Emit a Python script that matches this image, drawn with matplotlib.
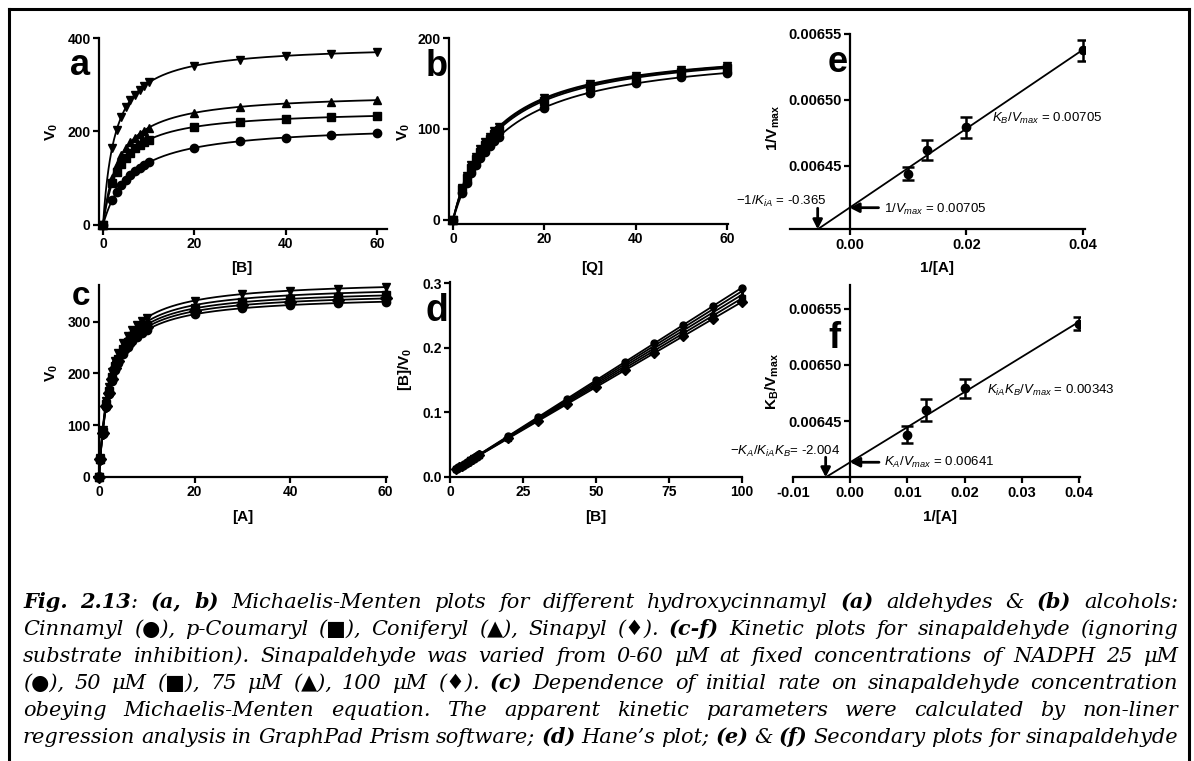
import numpy as np
import matplotlib
matplotlib.use('Agg')
import matplotlib.pyplot as plt
from matplotlib.ticker import FormatStrFormatter
from matplotlib.lines import Line2D

plt.rcParams['font.family'] = ['Liberation Sans', 'DejaVu Sans']
plt.rcParams['font.weight'] = 'bold'
plt.rcParams['mathtext.fontset'] = 'custom'
plt.rcParams['mathtext.rm'] = 'Liberation Sans:weight=normal'
plt.rcParams['mathtext.it'] = 'Liberation Sans:style=italic:weight=normal'
plt.rcParams['mathtext.bf'] = 'Liberation Sans:weight=bold'

# ---------------- data ----------------
# panel a (aldehydes) : x = [B]
a_x = [0, 2, 3, 4, 5, 6, 7, 8, 9, 10, 20, 30, 40, 50, 60]
a_cinnamyl = [0, 53, 71, 85, 97, 107, 115, 122, 128, 134, 165, 179, 187, 192, 196]
a_coumaryl = [0, 89, 113, 131, 144, 155, 164, 171, 177, 182, 210, 221, 227, 231, 233]
a_coniferyl = [0, 101, 129, 149, 165, 177, 187, 195, 202, 208, 240, 253, 260, 264, 267]
a_sinapyl = [0, 165, 204, 231, 252, 267, 279, 289, 298, 305, 341, 354, 362, 366, 370]

# panel b (alcohols) : x = [Q]
b_x = [0, 2, 3, 4, 5, 6, 7, 8, 9, 10, 20, 30, 40, 50, 60]
b_cinnamyl = [0, 29.6, 41.2, 51.3, 60.1, 67.8, 74.7, 80.8, 86.4, 91.4, 123.6, 140.1, 150.1, 156.8, 161.6]
b_coumaryl = [0, 33.7, 46.4, 57.3, 66.7, 74.9, 82.1, 88.5, 94.1, 99.2, 131.2, 147.0, 156.3, 162.6, 167.0]
b_coniferyl = [0, 34.6, 47.7, 58.8, 68.3, 76.6, 83.8, 90.2, 95.9, 101.0, 132.9, 148.5, 157.7, 163.9, 168.2]
b_sinapyl = [0, 35.5, 48.7, 60.0, 69.6, 77.9, 85.2, 91.6, 97.3, 102.4, 134.1, 149.4, 158.6, 164.6, 168.8]

# panel c : x = [A]
c_x = [0, 0.25, 0.75, 1.5, 2, 2.7, 3.4, 4, 5, 6, 7, 8, 9, 10, 20, 30, 40, 50, 60]
c_s1 = [0, 36, 91, 147, 174, 202, 224, 239, 258, 273, 285, 294, 301, 308, 341, 354, 360, 364, 367]
c_s2 = [0, 35, 89, 143, 169, 197, 218, 233, 251, 266, 277, 286, 294, 300, 332, 344, 351, 355, 358]
c_s3 = [0, 34, 87, 141, 166, 193, 214, 228, 247, 261, 272, 281, 288, 294, 326, 338, 344, 348, 351]
c_s4 = [0, 34, 85, 138, 163, 190, 210, 224, 243, 256, 267, 276, 283, 289, 321, 332, 339, 342, 345]
c_s5 = [0, 33, 84, 136, 160, 186, 206, 220, 238, 251, 262, 271, 278, 284, 314, 326, 332, 336, 339]

# panel d : Hanes plot, x = [B]
d_x = [2, 3, 4, 5, 6, 7, 8, 9, 10, 20, 30, 40, 50, 60, 70, 80, 90, 100]
d_s1 = [0.0119, 0.0148, 0.0177, 0.0205, 0.0234, 0.0263, 0.0291, 0.0320, 0.0349, 0.0636, 0.0922, 0.1209, 0.1496, 0.1783, 0.2070, 0.2356, 0.2643, 0.2930]
d_s2 = [0.0120, 0.0148, 0.0176, 0.0205, 0.0233, 0.0261, 0.0289, 0.0317, 0.0345, 0.0626, 0.0907, 0.1188, 0.1470, 0.1751, 0.2032, 0.2313, 0.2594, 0.2875]
d_s3 = [0.0121, 0.0149, 0.0176, 0.0204, 0.0231, 0.0259, 0.0286, 0.0314, 0.0341, 0.0617, 0.0892, 0.1168, 0.1443, 0.1718, 0.1994, 0.2269, 0.2545, 0.2820]
d_s4 = [0.0122, 0.0149, 0.0176, 0.0203, 0.0230, 0.0257, 0.0284, 0.0311, 0.0338, 0.0607, 0.0877, 0.1147, 0.1417, 0.1686, 0.1956, 0.2226, 0.2495, 0.2765]
d_s5 = [0.0123, 0.0149, 0.0176, 0.0202, 0.0228, 0.0255, 0.0281, 0.0308, 0.0334, 0.0598, 0.0862, 0.1126, 0.1390, 0.1654, 0.1918, 0.2182, 0.2446, 0.2710]

# panels e, f : secondary plots, x = 1/[A]
ef_x = [0.01, 0.01333, 0.02, 0.04]
e_y = [0.006444, 0.006462, 0.006479, 0.0065375]
e_err = [0.0000048, 0.0000078, 0.0000079, 0.0000080]
f_y = [0.006438, 0.006460, 0.006479, 0.0065366]
f_err = [0.0000076, 0.0000097, 0.0000086, 0.0000060]

caption_lines = [
    "*Fig.* *2.13*: *(a,* *b)* Michaelis-Menten plots for different hydroxycinnamyl *(a)* aldehydes & *(b)* alcohols:",
    "Cinnamyl (\u25cf), p-Coumaryl (\u25a0), Coniferyl (\u25b2), Sinapyl (\u2666). *(c-f)* Kinetic plots for sinapaldehyde (ignoring",
    "substrate inhibition). Sinapaldehyde was varied from 0-60 \u03bcM at fixed concentrations of NADPH 25 \u03bcM",
    "(\u25cf), 50 \u03bcM (\u25a0), 75 \u03bcM (\u25b2), 100 \u03bcM (\u2666). *(c)* Dependence of initial rate on sinapaldehyde concentration",
    "obeying Michaelis-Menten equation. The apparent kinetic parameters were calculated by non-liner",
    "regression analysis in GraphPad Prism software; *(d)* Hane\u2019s plot; *(e)* & *(f)* Secondary plots for sinapaldehyde",
]

# ---------------- figure ----------------
W, H = 1194, 761
fig = plt.figure(figsize=(W / 100, H / 100), dpi=100)


def ax_px(l, t, r, b):
    return fig.add_axes([l / W, 1 - b / H, (r - l) / W, (b - t) / H])


def fx(px):
    return px / W


def fy(py):
    return 1 - py / H


def style(ax, xticks, yticks, xlim, ylim, xfmt=None, yfmt=None, size=10):
    for s in ['top', 'right']:
        ax.spines[s].set_visible(False)
    for s in ['left', 'bottom']:
        ax.spines[s].set_linewidth(1.6)
    ax.set_xlim(xlim)
    ax.set_ylim(ylim)
    ax.set_xticks(xticks)
    ax.set_yticks(yticks)
    if xfmt:
        ax.xaxis.set_major_formatter(FormatStrFormatter(xfmt))
    if yfmt:
        ax.yaxis.set_major_formatter(FormatStrFormatter(yfmt))
    ax.tick_params(direction='out', length=4.5, width=1.6, labelsize=size, pad=1.5)
    ax.patch.set_alpha(0)


def mm_fit(x, v):
    x = np.asarray(x, float)
    v = np.asarray(v, float)
    m = x > 0
    slope, icpt = np.polyfit(x[m], x[m] / v[m], 1)
    vmax = 1.0 / slope
    km = icpt * vmax
    return vmax, km


def mm_panel(ax, x, series, markers, xmax, ms=6):
    xs = np.linspace(0, xmax, 400)
    for v, mk in zip(series, markers):
        vmax, km = mm_fit(x, v)
        ax.plot(xs, vmax * xs / (km + xs), color='k', lw=1.3, zorder=2)
        ax.plot(x, v, linestyle='none', marker=mk, ms=ms, color='k', mec='k', clip_on=False, zorder=3)


# panel a
ax_a = ax_px(99, 38, 387, 229)
mm_panel(ax_a, a_x, [a_cinnamyl, a_coumaryl, a_coniferyl, a_sinapyl], ['o', 's', '^', 'v'], 60)
style(ax_a, [0, 20, 40, 60], [0, 200, 400], (-0.876, 62.19), (-8.56, 400))

# panel b
ax_b = ax_px(449, 38, 728, 224)
mm_panel(ax_b, b_x, [b_cinnamyl, b_coumaryl, b_coniferyl, b_sinapyl], ['o', 's', '^', 'v'], 60)
style(ax_b, [0, 20, 40, 60], [0, 100, 200], (-0.876, 60.2), (-4.4, 200))

# panel c
ax_c = ax_px(99, 285, 387, 477)
mm_panel(ax_c, c_x, [c_s5, c_s4, c_s3, c_s2, c_s1], ['o', 'D', 's', '^', 'v'], 60)
style(ax_c, [0, 20, 40, 60], [0, 100, 200, 300], (0, 60.27), (0, 371))

# panel d
ax_d = ax_px(450, 282, 742, 477)
for yv, mk in zip([d_s5, d_s4, d_s3, d_s2, d_s1], ['D', 's', '^', 'v', 'o']):
    k, b0 = np.polyfit(d_x, yv, 1)
    xs = np.array([min(d_x), max(d_x)])
    ax_d.plot(xs, k * xs + b0, color='k', lw=1.3, zorder=2)
    ax_d.plot(d_x, yv, linestyle='none', marker=mk, ms=5, color='k', clip_on=False, zorder=3)
style(ax_d, [0, 25, 50, 75, 100], [0.0, 0.1, 0.2, 0.3], (0, 100.1), (0, 0.302), yfmt='%.1f')


def secondary(ax, y, err, ylo, xhi):
    k, b0 = np.polyfit(ef_x, y, 1)
    xint = (ylo - b0) / k
    xs = np.array([xint, xhi])
    ax.plot(xs, k * xs + b0, color='k', lw=1.3, zorder=2)
    ax.errorbar(ef_x, y, yerr=err, fmt='o', ms=6, color='k', ecolor='k',
                elinewidth=1.8, capsize=4, capthick=1.8, zorder=3)
    ax.spines['left'].set_position(('data', 0))
    return k, b0, xint


arrow_h = dict(arrowstyle='-|>,head_length=0.55,head_width=0.28', lw=2.0, color='k',
               shrinkA=0, shrinkB=0)
ann_kw = dict(fontsize=9.5, fontweight='normal', va='center')

# panel e
ax_e = ax_px(790, 34, 1085, 229.3)
e_lo = 0.0064016
ke, be, xe = secondary(ax_e, e_y, e_err, e_lo, 0.04)
style(ax_e, [0.0, 0.02, 0.04], [0.00645, 0.00650, 0.00655], (-0.0102, 0.0403), (e_lo, 0.00655),
      xfmt='%.2f', yfmt='%.5f', size=10.5)
pxy_e = 0.00005 / 65.7
pxx_e = 1 / 5850
ax_e.annotate('', xy=(0, be), xytext=(29 * pxx_e, be), arrowprops=arrow_h, annotation_clip=False)
ax_e.text(34 * pxx_e, be - 1.5 * pxy_e, r'$1/V_{max}$ = 0.00705', ha='left', **ann_kw)
ax_e.annotate('', xy=(xe, e_lo), xytext=(xe, e_lo + 21 * pxy_e), arrowprops=arrow_h, annotation_clip=False)
ax_e.text(xe + 9 * pxx_e, e_lo + 28 * pxy_e, r'$-1/K_{iA}$ = -0.365', ha='right', clip_on=False, **ann_kw)
ax_e.text(0.02434, 0.006486, r'$K_B/V_{max}$ = 0.00705', ha='left', **ann_kw)

# panel f
ax_f = ax_px(793, 285, 1080, 477.3)
f_lo = 0.0064
kf, bf, xf = secondary(ax_f, f_y, f_err, f_lo, 0.04)
style(ax_f, [-0.01, 0.0, 0.01, 0.02, 0.03, 0.04], [0.00645, 0.00650, 0.00655], (-0.01, 0.0402),
      (f_lo, 0.006571), xfmt='%.2f', yfmt='%.5f', size=10.5)
pxy_f = 0.00005 / 56
pxx_f = 1 / 5750
ax_f.annotate('', xy=(0, bf), xytext=(29 * pxx_f, bf), arrowprops=arrow_h, annotation_clip=False)
ax_f.text(34 * pxx_f, bf, r'$K_A/V_{max}$ = 0.00641', ha='left', **ann_kw)
ax_f.annotate('', xy=(xf, f_lo), xytext=(xf, f_lo + 20 * pxy_f), arrowprops=arrow_h, annotation_clip=False)
ax_f.text(xf + 15 * pxx_f, f_lo + 26 * pxy_f, r'$-K_A/K_{iA}K_B$= -2.004', ha='right', clip_on=False, **ann_kw)
ax_f.text(0.0239, 0.006477, r'$K_{iA}K_B/V_{max}$ = 0.00343', ha='left', **ann_kw)

# axis labels
lab = dict(fontsize=11, fontweight='bold', ha='center', va='center')
fig.text(fx(52), fy(132), r'V$_\mathbf{0}$', rotation=90, **lab)
fig.text(fx(404), fy(132), r'V$_\mathbf{0}$', rotation=90, **lab)
fig.text(fx(52), fy(373), r'V$_\mathbf{0}$', rotation=90, **lab)
fig.text(fx(405), fy(369), r'[B]/V$_\mathbf{0}$', rotation=90, **lab)
fig.text(fx(773), fy(128), r'1/V$_\mathbf{max}$', rotation=90, **lab)
fig.text(fx(772), fy(381), r'K$_\mathbf{B}$/V$_\mathbf{max}$', rotation=90, **lab)
fig.text(fx(242), fy(268), '[B]', **lab)
fig.text(fx(592), fy(268), '[Q]', **lab)
fig.text(fx(937), fy(268), '1/[A]', **lab)
fig.text(fx(243), fy(517), '[A]', **lab)
fig.text(fx(596), fy(517), '[B]', **lab)
fig.text(fx(940), fy(517), '1/[A]', **lab)

# panel letters
for letter, x0, yb, sz in [('a', 70, 75, 26), ('b', 426, 76, 26), ('c', 72, 305, 24),
                           ('d', 425, 321, 27), ('e', 828, 72, 26), ('f', 828, 348, 26)]:
    fig.text(fx(x0), fy(yb), letter, fontsize=sz, fontweight='bold', ha='left', va='baseline')

# frame
fl = dict(color='k', lw=2.2, transform=fig.transFigure)
fig.add_artist(Line2D([fx(8.5), fx(8.5)], [fy(8.5), fy(761)], **fl))
fig.add_artist(Line2D([fx(8.5), fx(1189)], [fy(8.5), fy(8.5)], **fl))
fig.add_artist(Line2D([fx(1189), fx(1189)], [fy(8.5), fy(761)], **fl))

# caption (justified)
renderer = fig.canvas.get_renderer()
cap_font = dict(family=['DejaVu Serif', 'DejaVu Sans'], style='italic', size=15)
cap_left, cap_right = 23, 1178
cap_base = [608, 635, 662, 689, 716, 743]


def parse(word):
    pieces = []
    for i, part in enumerate(word.split('*')):
        if part:
            pieces.append((part, i % 2 == 1))
    return pieces


for line, yb in zip(caption_lines, cap_base):
    words = line.split(' ')
    word_objs = []
    total = 0.0
    for w in words:
        objs = []
        wsum = 0.0
        for text, bold in parse(w):
            t = fig.text(0, fy(yb), text, fontweight='bold' if bold else 'normal',
                         ha='left', va='baseline', **cap_font)
            wd = t.get_window_extent(renderer).width
            objs.append((t, wd))
            wsum += wd
        word_objs.append((objs, wsum))
        total += wsum
    gap = (cap_right - cap_left - total) / (len(words) - 1)
    x = cap_left
    for objs, wsum in word_objs:
        xx = x
        for t, wd in objs:
            t.set_x(fx(xx))
            xx += wd
        x += wsum + gap

fig.savefig('out.png', dpi=100)
